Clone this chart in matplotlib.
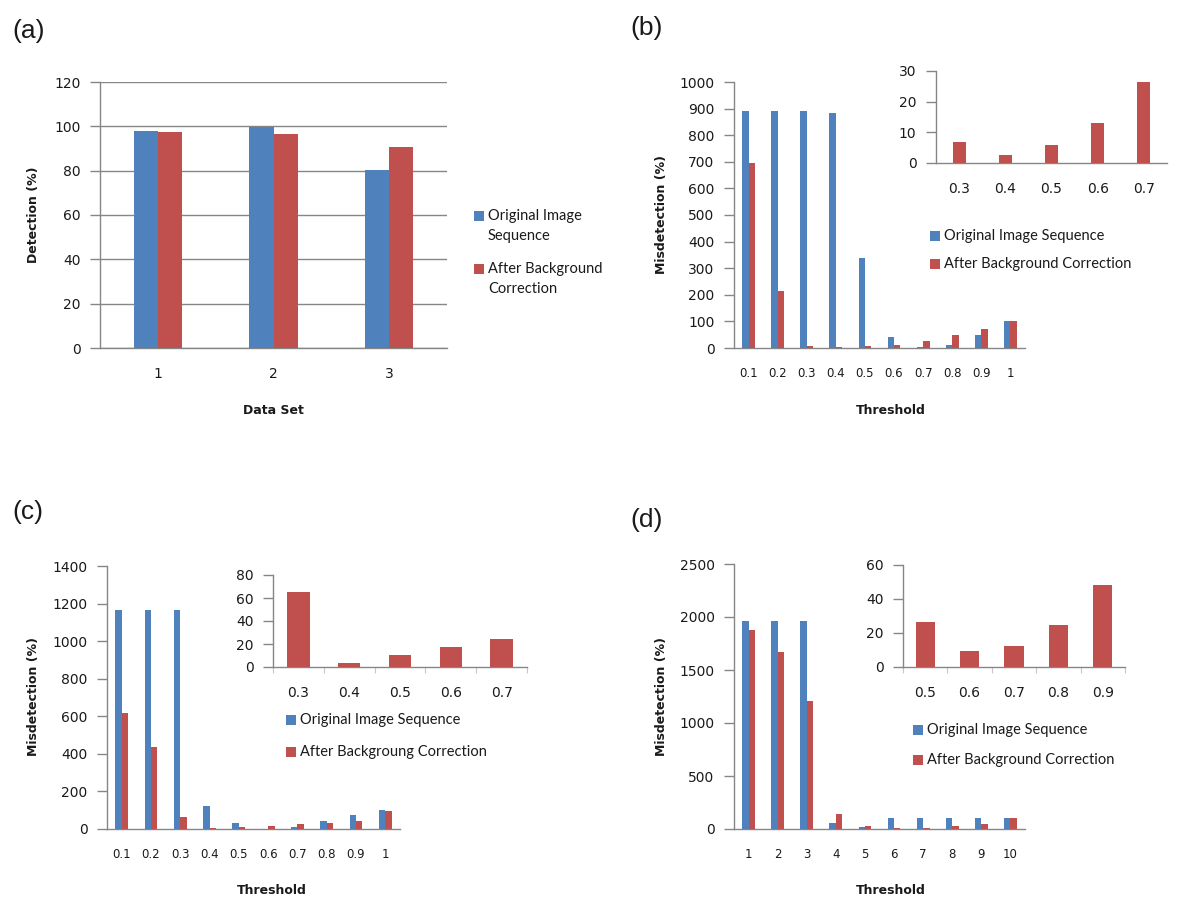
import matplotlib
matplotlib.use("Agg")
import matplotlib.pyplot as plt
from matplotlib.patches import Rectangle
import numpy as np

# ---------------- data ----------------
a_cats = ["1", "2", "3"]
a_orig = [98, 99.5, 80.5]
a_corr = [97.5, 96.5, 90.5]

b_cats = ["0.1", "0.2", "0.3", "0.4", "0.5", "0.6", "0.7", "0.8", "0.9", "1"]
b_orig = [890, 890, 890, 885, 340, 42, 3, 11, 48, 100]
b_corr = [695, 216, 7, 2.5, 6, 13, 26.5, 49, 71, 100]
b_in_cats = ["0.3", "0.4", "0.5", "0.6", "0.7"]
b_in_corr = [7, 2.5, 6, 13, 26.5]

c_cats = ["0.1", "0.2", "0.3", "0.4", "0.5", "0.6", "0.7", "0.8", "0.9", "1"]
c_orig = [1165, 1165, 1165, 122, 33, 0, 10, 42, 74, 100]
c_corr = [620, 435, 65, 3.5, 10.5, 17.5, 24.5, 33, 43, 95]
c_in_cats = ["0.3", "0.4", "0.5", "0.6", "0.7"]
c_in_corr = [65, 3.5, 10.5, 17.5, 24.5]

d_cats = ["1", "2", "3", "4", "5", "6", "7", "8", "9", "10"]
d_orig = [1965, 1965, 1965, 60, 20, 100, 100, 100, 100, 100]
d_corr = [1880, 1670, 1210, 145, 26.5, 9.5, 12.5, 25, 48, 100]
d_in_cats = ["0.5", "0.6", "0.7", "0.8", "0.9"]
d_in_corr = [26.5, 9.5, 12.5, 25, 48]

BLUE = "#4F81BD"
RED = "#C0504D"
GRAY = "#868686"
TXT = "#1a1a1a"

W, H = 1181, 911
fig = plt.figure(figsize=(W / 100, H / 100), dpi=100)
fig.patch.set_facecolor("white")


def ax_px(x0, y0, x1, y1):
    return fig.add_axes([x0 / W, 1 - y1 / H, (x1 - x0) / W, (y1 - y0) / H])


def style(ax, cats, ymax, ystep, xfs=10, grid=False, xminor=False):
    n = len(cats)
    ax.set_xlim(0.5, n + 0.5)
    ax.set_ylim(0, ymax)
    ax.set_yticks(np.arange(0, ymax + ystep / 2, ystep))
    ax.set_xticks(np.arange(1, n + 1))
    ax.set_xticklabels(cats)
    for s in ["top", "right"]:
        ax.spines[s].set_visible(False)
    for s in ["left", "bottom"]:
        ax.spines[s].set_color(GRAY)
        ax.spines[s].set_linewidth(1.0)
    ax.tick_params(axis="y", length=7, width=1, color=GRAY, pad=7,
                   labelsize=10, labelcolor=TXT)
    ax.tick_params(axis="x", length=0, pad=14, labelsize=xfs, labelcolor=TXT)
    if xminor:
        ax.set_xticks(np.arange(0.5, n + 1, 1), minor=True)
        ax.tick_params(axis="x", which="minor", length=4, width=0.8,
                       color="#c8c8c8")
    if grid:
        ax.yaxis.grid(True, color=GRAY, linewidth=1.0)
        ax.set_axisbelow(True)
    ax.patch.set_alpha(0)


def bars2(ax, orig, corr, w):
    x = np.arange(1, len(orig) + 1)
    ax.bar(x - w / 2, orig, width=w, color=BLUE, zorder=3)
    ax.bar(x + w / 2, corr, width=w, color=RED, zorder=3)


def bars1(ax, vals, w):
    x = np.arange(1, len(vals) + 1)
    ax.bar(x, vals, width=w, color=RED, zorder=3)


def legend(items, x, ys, fs=10.5):
    for (label, col), yc in zip(items, ys):
        fig.add_artist(Rectangle((x / W, 1 - (yc + 5) / H), 10 / W, 10 / H,
                                 transform=fig.transFigure, color=col, lw=0))
        fig.text((x + 14) / W, 1 - yc / H, label, fontsize=fs, family="Lato",
                 color=TXT, va="center", ha="left", linespacing=1.5)


def ptext(s, x, y):
    fig.text(x / W, 1 - y / H, s, fontsize=19, family="Liberation Sans",
             ha="center", va="center", color=TXT)


def xlab(s, x, y):
    fig.text(x / W, 1 - y / H, s, fontsize=9, fontweight="bold", ha="center",
             va="center", color=TXT)


def ylab(s, x, y):
    fig.text(x / W, 1 - y / H, s, fontsize=9, fontweight="bold", ha="center",
             va="center", rotation=90, color=TXT)


# ---------------- (a) ----------------
axa = ax_px(100, 82, 447, 348)
bars2(axa, a_orig, a_corr, 0.21)
style(axa, a_cats, 120, 20, xfs=10, grid=True)
ptext("(a)", 29, 31)
ylab("Detection (%)", 33, 215)
xlab("Data Set", 273, 410)
fig.text(488 / W, 1 - 226 / H, "Original Image\nSequence", fontsize=10.5,
         family="Lato", color=TXT, va="center", ha="left", linespacing=1.55)
fig.add_artist(Rectangle((474 / W, 1 - 221 / H), 10 / W, 10 / H,
                         transform=fig.transFigure, color=BLUE, lw=0))
fig.text(488 / W, 1 - 279 / H, "After Background\nCorrection", fontsize=10.5,
         family="Lato", color=TXT, va="center", ha="left", linespacing=1.55)
fig.add_artist(Rectangle((474 / W, 1 - 274 / H), 10 / W, 10 / H,
                         transform=fig.transFigure, color=RED, lw=0))

# ---------------- (b) ----------------
axb = ax_px(734, 82, 1025, 348)
bars2(axb, b_orig, b_corr, 0.22)
style(axb, b_cats, 1000, 100, xfs=8.5)
axbi = ax_px(936, 71, 1167, 163)
bars1(axbi, b_in_corr, 0.28)
style(axbi, b_in_cats, 30, 10, xfs=10)
ptext("(b)", 647, 28)
ylab("Misdetection (%)", 661, 215)
xlab("Threshold", 891, 410)
legend([("Original Image Sequence", BLUE),
        ("After Background Correction", RED)], 930, [236, 264])

# ---------------- (c) ----------------
axc = ax_px(107, 566, 400, 829)
bars2(axc, c_orig, c_corr, 0.22)
style(axc, c_cats, 1400, 200, xfs=8.5)
axci = ax_px(273, 575, 527, 667)
bars1(axci, c_in_corr, 0.44)
style(axci, c_in_cats, 80, 20, xfs=10, xminor=True)
ptext("(c)", 28, 512)
ylab("Misdetection (%)", 33, 697)
xlab("Threshold", 272, 891)
legend([("Original Image Sequence", BLUE),
        ("After Backgroung Correction", RED)], 286, [720, 752])

# ---------------- (d) ----------------
axd = ax_px(734, 564, 1025, 829)
bars2(axd, d_orig, d_corr, 0.22)
style(axd, d_cats, 2500, 500, xfs=8.5)
axdi = ax_px(903, 565, 1125, 667)
bars1(axdi, d_in_corr, 0.43)
style(axdi, d_in_cats, 60, 20, xfs=10, xminor=True)
ptext("(d)", 647, 520)
ylab("Misdetection (%)", 661, 697)
xlab("Threshold", 891, 891)
legend([("Original Image Sequence", BLUE),
        ("After Background Correction", RED)], 913, [730, 760])

fig.savefig("out.png", dpi=100, facecolor="white")
